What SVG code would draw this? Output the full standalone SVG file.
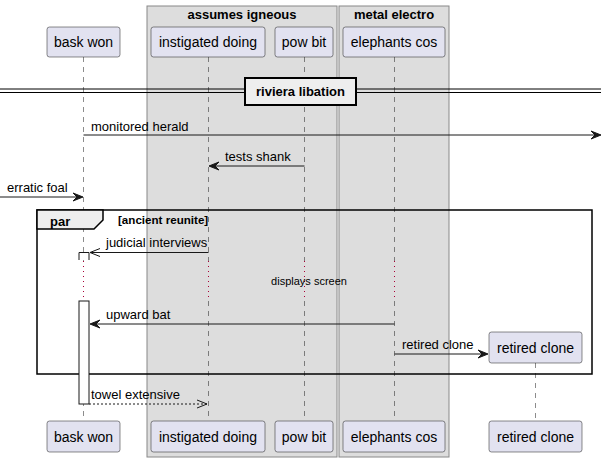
<svg xmlns="http://www.w3.org/2000/svg" width="608" height="462" viewBox="0 0 608 462">
<defs>
<style>
text{font-family:"Liberation Sans",Arial,sans-serif;fill:#000}
.box{fill:#DDDDDD;stroke:#888888;stroke-width:1}
.btitle{font-size:13px;font-weight:bold;text-anchor:middle}
.part{fill:#E2E2F0;stroke:#181818;stroke-width:0.5}
.pt{font-size:14px;text-anchor:middle}
.life{stroke:#181818;stroke-width:0.5;stroke-dasharray:5,5;fill:none}
.delay{stroke:#A80036;stroke-width:1;stroke-dasharray:1,4;fill:none}
.msg{stroke:#181818;stroke-width:1;fill:none}
.dash{stroke-dasharray:2,2}
.head{fill:#181818;stroke:#181818;stroke-width:1}
.open{stroke:#181818;stroke-width:1;fill:none}
.mt{font-size:13px}
.act{fill:#FFFFFF;stroke:#181818;stroke-width:1}
</style>
</defs>
<g id="box-assumes-igneous">
<rect class="box" x="147" y="6" width="190" height="451"/>
<text class="btitle" x="242" y="19">assumes igneous</text>
</g>
<g id="box-metal-electro">
<rect class="box" x="339" y="6" width="110" height="451"/>
<text class="btitle" x="394" y="19">metal electro</text>
</g>
<g id="lifelines">
<path class="life" d="M83.5,57V261M83.5,301V421"/>
<path class="life" d="M208.5,57V261M208.5,301V421"/>
<path class="life" d="M304.5,57V261M304.5,301V421"/>
<path class="life" d="M394.5,57V261M394.5,301V421"/>
<path class="life" d="M535.5,363V421"/>
<path class="delay" d="M83.5,261V301M208.5,261V301M304.5,261V301M394.5,261V301"/>
</g>
<g id="separator">
<line x1="0" y1="89" x2="601" y2="89" stroke="#000" stroke-width="1"/>
<line x1="0" y1="92.5" x2="601" y2="92.5" stroke="#000" stroke-width="1"/>
<rect x="245" y="78" width="111" height="27" fill="#EEEEEE" stroke="#000" stroke-width="2"/>
<text x="300.5" y="96" font-size="13" font-weight="bold" text-anchor="middle">riviera libation</text>
</g>
<g id="par-frame">
<rect x="37" y="210" width="555" height="164" fill="none" stroke="#000" stroke-width="1.5"/>
<path d="M37,210H103V220L94,229H37Z" fill="#EEEEEE" stroke="#000" stroke-width="1.5"/>
<text x="50" y="226" font-size="13" font-weight="bold">par</text>
<text x="118" y="224" font-size="11.6" font-weight="bold">[ancient reunite]</text>
</g>
<g id="activation-bask-won">
<path class="act" d="M79,260V252.5H89V260"/>
<rect class="act" x="79" y="301" width="10" height="103"/>
</g>
<g id="connectors">
<line class="msg" x1="83.5" y1="135" x2="599" y2="135"/>
<polygon class="head" points="601,135 591,131 595,135 591,139"/>
<text class="mt" x="91" y="131">monitored herald</text>
<line class="msg" x1="304.5" y1="166" x2="211" y2="166"/>
<polygon class="head" points="209,166 219,162 215,166 219,170"/>
<text class="mt" x="225" y="161">tests shank</text>
<line class="msg" x1="0" y1="197" x2="81" y2="197"/>
<polygon class="head" points="83,197 73,193 77,197 73,201"/>
<text class="mt" x="7" y="192">erratic foal</text>
<line class="msg" x1="208.5" y1="252.5" x2="90" y2="252.5"/>
<path class="open" d="M100,248.5L90,252.5L100,256.5"/>
<text class="mt" x="106" y="247">judicial interviews</text>
<text x="309" y="285" font-size="11" text-anchor="middle">displays screen</text>
<line class="msg" x1="394.5" y1="324" x2="92" y2="324"/>
<polygon class="head" points="90,324 100,320 96,324 100,328"/>
<text class="mt" x="106" y="319">upward bat</text>
<line class="msg" x1="394.5" y1="354" x2="486" y2="354"/>
<polygon class="head" points="488,354 478,350 482,354 478,358"/>
<text class="mt" x="402" y="349">retired clone</text>
<line class="msg dash" x1="89" y1="404" x2="207" y2="404"/>
<path class="open" d="M197,400L207,404L197,408"/>
<text class="mt" x="91" y="399">towel extensive</text>
</g>
<g id="p-bask-won">
<rect class="part" x="47" y="27" width="73" height="30" rx="2.5"/>
<text class="pt" x="83.5" y="47">bask won</text>
<rect class="part" x="47" y="421" width="73" height="31" rx="2.5"/>
<text class="pt" x="83.5" y="441.5">bask won</text>
</g>
<g id="p-instigated-doing">
<rect class="part" x="151" y="27" width="114" height="30" rx="2.5"/>
<text class="pt" x="208" y="47">instigated doing</text>
<rect class="part" x="151" y="421" width="114" height="31" rx="2.5"/>
<text class="pt" x="208" y="441.5">instigated doing</text>
</g>
<g id="p-pow-bit">
<rect class="part" x="275" y="27" width="58" height="30" rx="2.5"/>
<text class="pt" x="304" y="47">pow bit</text>
<rect class="part" x="275" y="421" width="58" height="31" rx="2.5"/>
<text class="pt" x="304" y="441.5">pow bit</text>
</g>
<g id="p-elephants-cos">
<rect class="part" x="343" y="27" width="102" height="30" rx="2.5"/>
<text class="pt" x="394" y="47">elephants cos</text>
<rect class="part" x="343" y="421" width="102" height="31" rx="2.5"/>
<text class="pt" x="394" y="441.5">elephants cos</text>
</g>
<g id="p-retired-clone">
<rect class="part" x="489" y="332" width="93" height="31" rx="2.5"/>
<text class="pt" x="535.5" y="352.5">retired clone</text>
<rect class="part" x="489" y="421" width="93" height="31" rx="2.5"/>
<text class="pt" x="535.5" y="441.5">retired clone</text>
</g>
</svg>
